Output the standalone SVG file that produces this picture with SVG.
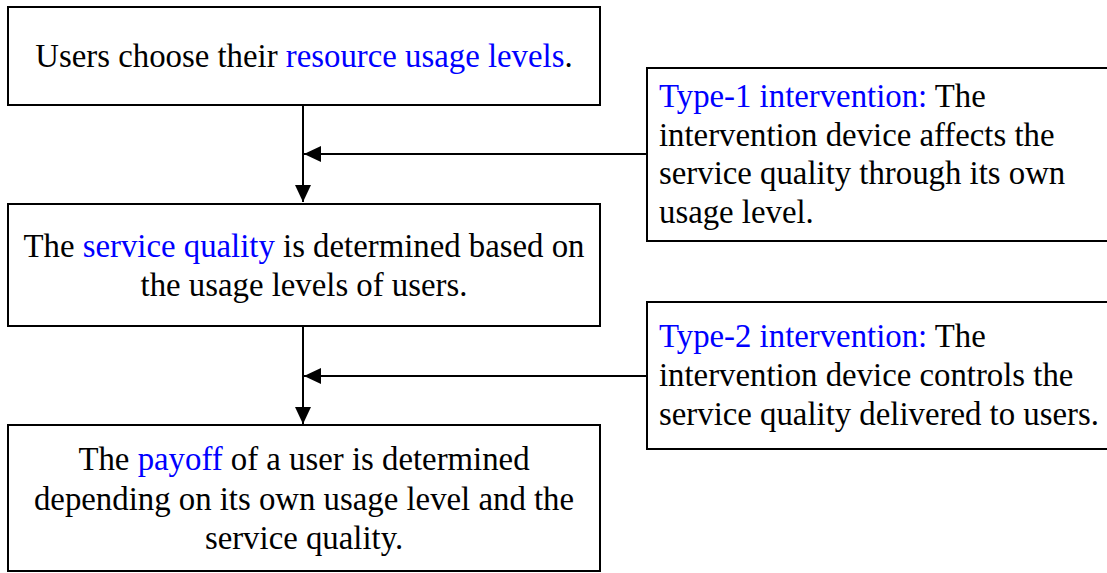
<svg xmlns="http://www.w3.org/2000/svg" width="1107" height="573" viewBox="0 0 1107 573">
<style>
.box{fill:#fff;stroke:#000;stroke-width:2}
.t{font-family:"Liberation Serif","Times New Roman",serif;font-size:32.8px;fill:#000}
.c{text-anchor:middle}
.b{fill:#0000ff}
.ln{stroke:#000;stroke-width:2;fill:none}
</style>
<defs>
<marker id="ah" markerUnits="userSpaceOnUse" markerWidth="18" markerHeight="18" viewBox="0 0 18 18" refX="17" refY="9" orient="auto">
<path d="M0,1 L17,9 L0,17 Z" fill="#000"/>
</marker>
</defs>
<g id="connectors">
<line class="ln" x1="303" y1="105" x2="303" y2="202" marker-end="url(#ah)"/>
<line class="ln" x1="647" y1="154" x2="304" y2="154" marker-end="url(#ah)"/>
<line class="ln" x1="303" y1="326" x2="303" y2="424" marker-end="url(#ah)"/>
<line class="ln" x1="647" y1="376" x2="304" y2="376" marker-end="url(#ah)"/>
</g>
<g id="n1">
<rect class="box" x="8" y="7" width="592" height="98"/>
<text class="t c" x="304" y="66.5">Users choose their <tspan class="b">resource usage levels</tspan>.</text>
</g>
<g id="n2">
<rect class="box" x="8" y="204" width="592" height="122"/>
<text class="t c" x="304" y="257">The <tspan class="b">service quality</tspan> is determined based on</text>
<text class="t c" x="304" y="296">the usage levels of users.</text>
</g>
<g id="n3">
<rect class="box" x="8" y="425" width="592" height="146"/>
<text class="t c" x="304" y="470">The <tspan class="b">payoff</tspan> of a user is determined</text>
<text class="t c" x="304" y="509.5">depending on its own usage level and the</text>
<text class="t c" x="304" y="549">service quality.</text>
</g>
<g id="i1">
<rect class="box" x="647" y="68" width="470" height="173"/>
<text class="t" x="659" y="107"><tspan class="b">Type-1 intervention:</tspan> The</text>
<text class="t" x="659" y="145.5">intervention device affects the</text>
<text class="t" x="659" y="184">service quality through its own</text>
<text class="t" x="659" y="223">usage level.</text>
</g>
<g id="i2">
<rect class="box" x="647" y="302" width="470" height="147"/>
<text class="t" x="659" y="347"><tspan class="b">Type-2 intervention:</tspan> The</text>
<text class="t" x="659" y="386">intervention device controls the</text>
<text class="t" x="659" y="425">service quality delivered to users.</text>
</g>
</svg>
